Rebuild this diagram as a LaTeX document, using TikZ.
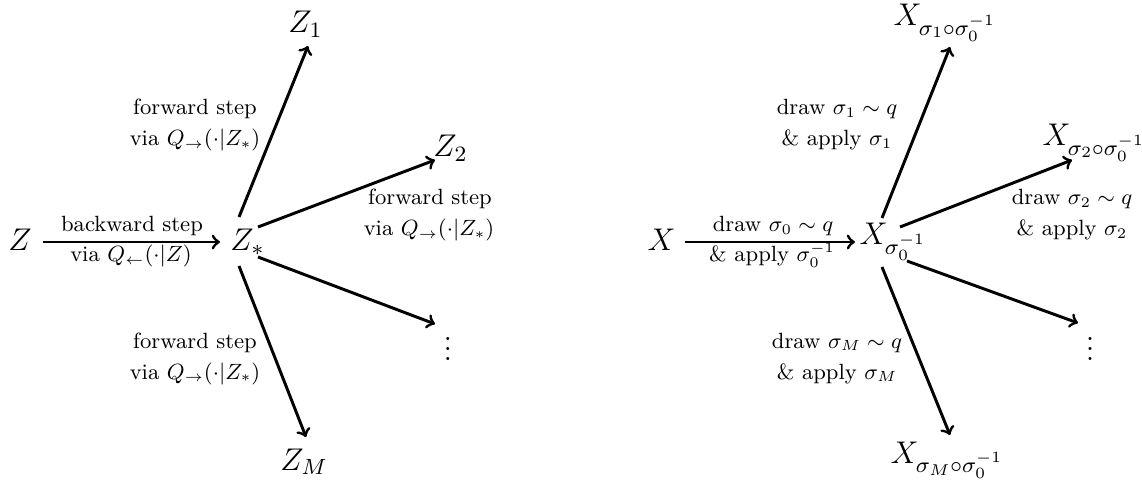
\RequirePackage{fix-cm}
\documentclass[tikz,border=0pt]{standalone}
\begin{document}
\begin{tikzpicture}[x=0.40816pt,y=-0.40816pt,
  vtx/.style={font=\fontsize{12.8}{15}\selectfont, inner sep=0pt, anchor=base west},
  dotsnode/.style={font=\fontsize{12.8}{15}\selectfont, inner sep=0pt, anchor=base},
  lbl/.style={font=\small, inner sep=0pt, anchor=base},
  arr/.style={->, very thick}]
\useasboundingbox (0,0) rectangle (1142,483);
% ---------- left diagram ----------
\node[vtx] (z)  at (8,251)   {$Z$};
\node[vtx] (zs) at (230,251) {$Z_*$};
\node[vtx] (z1) at (288,33)  {$Z_1$};
\node[vtx] (z2) at (433,157) {$Z_2$};
\node[vtx] (zm) at (280,470) {$Z_M$};
\node[dotsnode] (dl) at (448,360) {$\vdots$};
\node[lbl] (lb1) at (132,232) {backward step};
\node[lbl] (lb2) at (131,262) {via $Q_{\leftarrow}(\cdot|Z)$};
\node[lbl] (lu1) at (195,115) {forward step};
\node[lbl] (lu2) at (195,146) {via $Q_{\rightarrow}(\cdot|Z_*)$};
\node[lbl] (lr1) at (430,205) {forward step};
\node[lbl] (lr2) at (429,236) {via $Q_{\rightarrow}(\cdot|Z_*)$};
\node[lbl] (ld1) at (195,348) {forward step};
\node[lbl] (ld2) at (195,379) {via $Q_{\rightarrow}(\cdot|Z_*)$};
\draw[arr] ([shift={(35,-9)}]z.base west) -- ([shift={(-10,-9)}]zs.base west);
\draw[arr] ([shift={(9,-34)}]zs.base west) -- ([shift={(20,13)}]z1.base west);
\draw[arr] ([shift={(28,-24)}]zs.base west) -- ([shift={(2,3)}]z2.base west);
\draw[arr] ([shift={(28,6)}]zs.base west) -- ([shift={(-13,-36)}]dl.base);
\draw[arr] ([shift={(9,15)}]zs.base west) -- ([shift={(26,-33)}]zm.base west);
% ---------- right diagram ----------
\node[vtx] (x)  at (647,251) {$X$};
\node[vtx] (xs) at (859,245) {$X_{\sigma_0^{-1}}$};
\node[vtx] (x1) at (893,26)  {$X_{\sigma_1\circ\sigma_0^{-1}}$};
\node[vtx] (x2) at (1042,146) {$X_{\sigma_2\circ\sigma_0^{-1}}$};
\node[vtx] (xm) at (890,463) {$X_{\sigma_M\circ\sigma_0^{-1}}$};
\node[dotsnode] (dr) at (1090,360) {$\vdots$};
\node[lbl] (rb1) at (773,232) {draw $\sigma_0\sim q$};
\node[lbl] (rb2) at (772,262) {\& apply $\sigma_0^{-1}$};
\node[lbl] (ru1) at (837,115) {draw $\sigma_1\sim q$};
\node[lbl] (ru2) at (837,146) {\& apply $\sigma_1$};
\node[lbl] (rr1) at (1072,205) {draw $\sigma_2\sim q$};
\node[lbl] (rr2) at (1072,236) {\& apply $\sigma_2$};
\node[lbl] (rd1) at (837,348) {draw $\sigma_M\sim q$};
\node[lbl] (rd2) at (837,379) {\& apply $\sigma_M$};
\draw[arr] ([shift={(38,-9)}]x.base west) -- ([shift={(-4,-3)}]xs.base west);
\draw[arr] ([shift={(23,-27)}]xs.base west) -- ([shift={(57,21)}]x1.base west);
\draw[arr] ([shift={(41,-18)}]xs.base west) -- ([shift={(30,14)}]x2.base west);
\draw[arr] ([shift={(48,16)}]xs.base west) -- ([shift={(-12,-37)}]dr.base);
\draw[arr] ([shift={(23,22)}]xs.base west) -- ([shift={(60,-28)}]xm.base west);
\end{tikzpicture}
\end{document}
